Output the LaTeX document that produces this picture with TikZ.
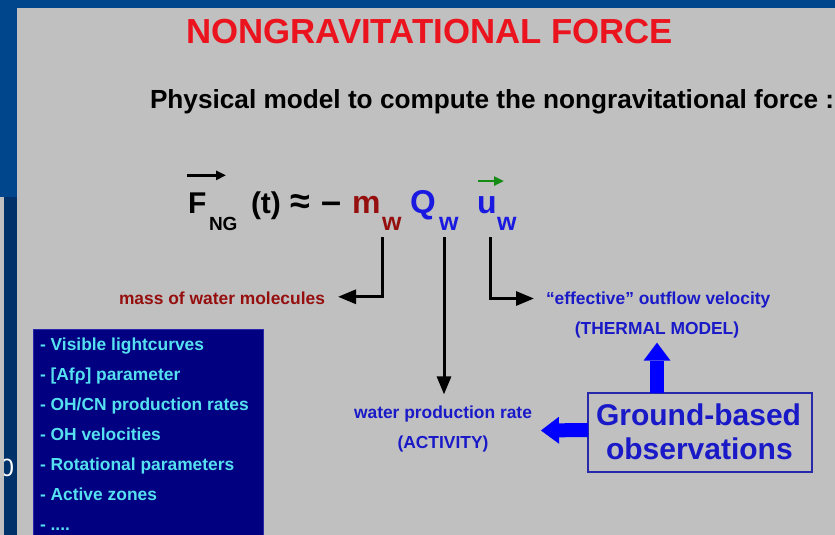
\documentclass[tikz,border=0pt]{standalone}
\usepackage{fontspec}
\setmainfont{Liberation Sans}
\usetikzlibrary{arrows.meta,calc}
\definecolor{slideblue}{RGB}{0,70,140}
\definecolor{darkstrip}{RGB}{0,50,105}
\definecolor{panelgray}{RGB}{192,192,192}
\definecolor{titlered}{RGB}{235,20,30}
\definecolor{mred}{RGB}{150,15,15}
\definecolor{qblue}{RGB}{25,25,225}
\definecolor{ugreen}{RGB}{20,140,20}
\definecolor{txtblue}{RGB}{25,25,200}
\definecolor{navybox}{RGB}{0,0,128}
\definecolor{navyedge}{RGB}{40,40,170}
\definecolor{cyantext}{RGB}{85,225,240}
\definecolor{arrowblue}{RGB}{0,0,255}
\newcommand{\fsz}[1]{\fontsize{#1}{#1}\selectfont}
\begin{document}
\begin{tikzpicture}[x=1pt,y=-1pt,
  every node/.style={inner sep=0pt,outer sep=0pt},
  bw/.style={anchor=base west},
  formula/.style={bw,font=\bfseries\fsz{30}},
  subscr/.style={bw,font=\bfseries\fsz{25}},
  lbl/.style={font=\bfseries\fsz{17.4},align=center},
  itemtxt/.style={bw,font=\bfseries\fsz{17.4},text=cyantext},
  conn/.style={line width=3pt,black,-{Triangle[length=18pt 0 0,width=14pt 0 0]}},
  vecarrow/.style={line width=2.6pt,-{Triangle[length=10pt 0 0,width=9pt 0 0]}},
  thick arrow/.style={line width=14pt,arrowblue,-{Triangle[length=18pt 0 0,width=27pt 0 0,line width=0pt]}}
]
\useasboundingbox (0,0) rectangle (835,535);
% background
\fill[slideblue] (0,0) rectangle (835,535);
\fill[darkstrip] (0,197) rectangle (17,535);
\node[text=white,font=\fsz{25}] (zero) at (7,468) {0};
\fill[panelgray] (0,197) rectangle (4,535);
\fill[panelgray] (17,8) rectangle (835,535);

% title
\node[bw,font=\bfseries\fsz{34.8},text=titlered] (title) at (186,44) {NONGRAVITATIONAL FORCE};
\node[bw,font=\bfseries\fsz{26.2}] (subtitle) at (150,108) {Physical model to compute the nongravitational force :};

% formula
\node[formula] (F) at (188,213) {F};
\node[bw,font=\bfseries\fsz{19}] (NG) at (209,230) {NG};
\node[formula] (t) at (251,213) {(t)};
\node[formula,font=\bfseries\fsz{36}] (approx) at (290,213) {≈};
\node[formula,font=\bfseries\fsz{36}] (minus) at (321,213) {–};
\node[formula,font=\bfseries\fsz{32},text=mred] (m) at (352,213) {m};
\node[subscr,text=mred] (mw) at (382,230) {w};
\node[formula,font=\bfseries\fsz{33},text=qblue] (Q) at (410,213) {Q};
\node[subscr,text=qblue] (Qw) at (439,230) {w};
\node[formula,font=\bfseries\fsz{32},text=qblue] (u) at (477,213) {u};
\node[subscr,text=qblue] (uw) at (497,230) {w};
\draw[vecarrow,black] ($(F.north west)+(-1,-17)$) -- ($(F.north west)+(38,-17)$);
\draw[vecarrow,ugreen] ($(u.north west)+(1,-15)$) -- ($(u.north west)+(27,-15)$);

% labels
\node[lbl,text=mred,anchor=base east] (mass) at (325,304) {mass of water molecules};
\node[lbl,text=txtblue,anchor=base west] (eff) at (546,304) {“effective” outflow velocity};
\node[lbl,text=txtblue,anchor=base] (therm) at (657,334) {(THERMAL MODEL)};
\node[lbl,text=txtblue,anchor=base] (wpr) at (443,418) {water production rate};
\node[lbl,text=txtblue,anchor=base] (act) at (443,448) {(ACTIVITY)};

% connectors
\coordinate (c1) at (382,237);
\coordinate (c2) at (444,237);
\coordinate (c3) at (490,237);
\draw[conn] (c1) |- ($(mass.east)+(13,-1)$);
\draw[conn] (c2) -- ($(wpr.north)+(1,-11)$);
\draw[conn] (c3) |- ($(eff.west)+(-12,-1)$);

% ground based box
\node[draw=navyedge,line width=1.5pt,minimum width=224pt,minimum height=79pt,anchor=north west] (gbo) at (588,393) {};
\node[bw,font=\bfseries\fsz{30},text=txtblue] (gb1) at (596,425) {Ground-based};
\node[bw,font=\bfseries\fsz{30},text=txtblue] (gb2) at (606,459) {observations};
\draw[thick arrow] (gbo.north -| therm.south) -- ($(therm.south)+(0,5)$);
\draw[thick arrow] (gbo.west |- 0,430) -- ($(wpr.east)+(9,17)$);

% navy box
\begin{scope}
\clip (0,0) rectangle (835,535);
\filldraw[fill=navybox,draw=navyedge,line width=1pt] (33,329) rectangle (263,545);
\end{scope}
\node[itemtxt] (i1) at (40,350) {- Visible lightcurves};
\node[itemtxt] (i2) at (40,380) {- [Afρ] parameter};
\node[itemtxt] (i3) at (40,410) {- OH/CN production rates};
\node[itemtxt] (i4) at (40,440) {- OH velocities};
\node[itemtxt] (i5) at (40,470) {- Rotational parameters};
\node[itemtxt] (i6) at (40,500) {- Active zones};
\node[itemtxt] (i7) at (40,530) {- ....};
\end{tikzpicture}
\end{document}
